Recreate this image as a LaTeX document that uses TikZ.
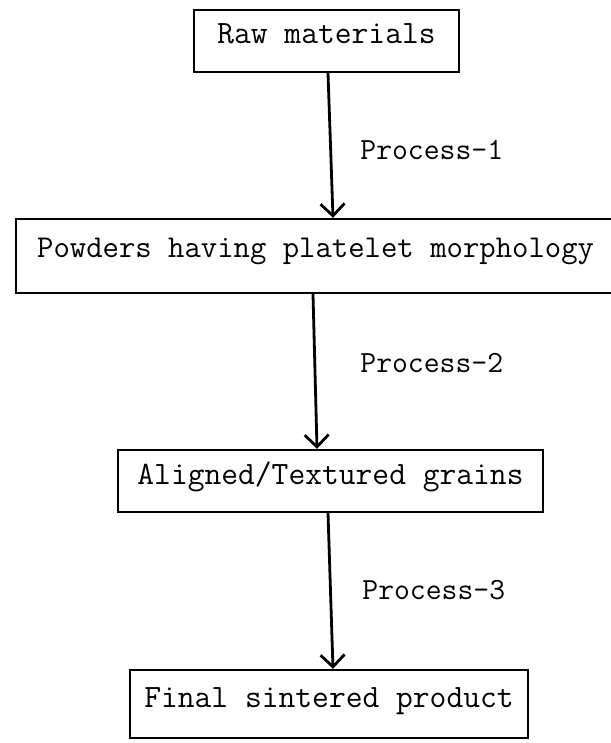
\documentclass[tikz,border=0pt]{standalone}
\usepackage{fontspec}
\usetikzlibrary{arrows.meta}

\begin{document}
\begin{tikzpicture}[x=0.5pt, y=-0.5pt,
    stage/.style={draw, line width=1.2pt, inner sep=0pt, text height=10pt, text depth=7pt, font=\ttfamily\fontsize{16.3}{18}\selectfont},
    proc/.style={anchor=west, inner sep=0pt, font=\ttfamily\fontsize{15.4}{18}\selectfont},
    flow/.style={line width=1.4pt, -{Straight Barb[length=6pt, width=12pt, line width=1.4pt]}}]
    \useasboundingbox (0,0) rectangle (610,743);
    \node[stage, minimum width=132.5pt, minimum height=31pt] (raw) at (326.5,41) {Raw materials};
    \node[stage, anchor=west, inner xsep=10.5pt, minimum height=37pt, text depth=9pt, font=\ttfamily\fontsize{15.9}{18}\selectfont] (powders) at (15,256) {Powders having platelet morphology\hspace*{30pt}};
    \node[stage, minimum width=212.5pt, minimum height=31pt] (aligned) at (330.5,481) {Aligned/Textured grains};
    \node[stage, minimum width=199pt, minimum height=34pt] (final) at (329,704) {Final sintered product};
    \draw[flow] ([xshift=0.75pt]raw.south) -- ([xshift=3.25pt]raw.south |- powders.north);
    \draw[flow] ([xshift=-8.75pt]aligned.north |- powders.south) -- ([xshift=-6.75pt]aligned.north);
    \draw[flow] ([xshift=-1.25pt]aligned.south) -- ([xshift=2pt]final.north);
    \node[proc] (p1) at (360,150) {Process-1};
    \node[proc] (p2) at (360,363) {Process-2};
    \node[proc] (p3) at (362,590) {Process-3};
  \end{tikzpicture}
\end{document}
